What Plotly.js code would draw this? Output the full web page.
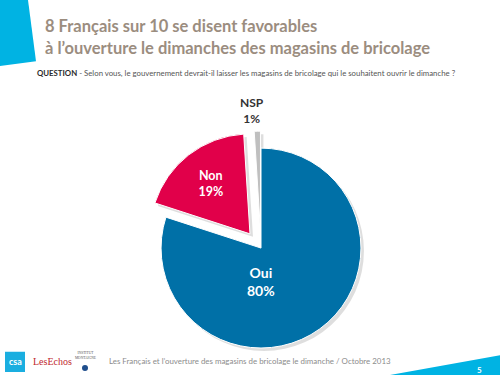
<!DOCTYPE html>
<html>
<head>
<meta charset="utf-8">
<script src="https://cdn.plot.ly/plotly-3.0.1.min.js"></script>
<style>
html,body{margin:0;padding:0;background:#fff;}
#chart{width:500px;height:375px;}
</style>
</head>
<body>
<div id="chart"></div>
<script>
// Data
const categories = ["Oui", "Non", "NSP"];
const values = [80, 19, 1];
const valueLabels = ["80%", "19%", "1%"];

const sliceColors = ["#0070a7", "#e1004a", "#bfbfbf"];
const pulls = [0, 0.18, 0.17];

const F = "Lato, 'Open Sans', sans-serif";
const pieDomain = {x: [0.286, 0.758], y: [0.024, 0.653]};

const shadow = {
  type: "pie",
  labels: categories,
  values: values,
  sort: false,
  direction: "clockwise",
  rotation: 0,
  pull: pulls,
  marker: {colors: ["rgba(0,0,0,0.13)", "rgba(0,0,0,0.13)", "rgba(0,0,0,0.13)"], line: {width: 0}},
  textinfo: "none",
  showlegend: false,
  automargin: false,
  domain: {x: [pieDomain.x[0] + 0.006, pieDomain.x[1] + 0.006], y: [pieDomain.y[0] - 0.008, pieDomain.y[1] - 0.008]},
  hoverinfo: "none"
};

const trace = {
  type: "pie",
  labels: categories,
  values: values,
  text: valueLabels,
  sort: false,
  direction: "clockwise",
  rotation: 0,
  pull: pulls,
  hole: 0,
  marker: {colors: sliceColors, line: {color: "#ffffff", width: 1}},
  texttemplate: "<b>%{label}</b><br><b>%{text}</b>",
  textposition: ["none", "inside", "none"],
  insidetextorientation: "horizontal",
  insidetextfont: {family: F, size: 12.5, color: "#ffffff"},
  showlegend: false,
  automargin: false,
  domain: pieDomain,
  hoverinfo: "none"
};

const layout = {
  width: 500, height: 375,
  margin: {l: 0, r: 0, t: 0, b: 0},
  paper_bgcolor: "#ffffff",
  showlegend: false,
  shapes: [
    {type: "path", xref: "paper", yref: "paper",
     path: "M 0 1 L 0.056 1 L 0.072 0.837 L 0 0.824 Z",
     fillcolor: "#00b3e3", line: {width: 0}},
    {type: "path", xref: "paper", yref: "paper",
     path: "M 0.78 0 L 1 0.053 L 1 0 Z",
     fillcolor: "#00b3e3", line: {width: 0}},
    {type: "rect", xref: "paper", yref: "paper",
     x0: 0.01, x1: 0.05, y0: 0.008, y1: 0.062,
     fillcolor: "#1aaee0", line: {width: 0}},
    {type: "circle", xref: "paper", yref: "paper",
     x0: 0.164, x1: 0.176, y0: 0.011, y1: 0.027,
     fillcolor: "#1f4e8c", line: {width: 0}}
  ],
  annotations: [
    {xref: "paper", yref: "paper", x: 0.086, y: 0.93, xanchor: "left", yanchor: "middle",
     text: "<b>8 Français sur 10 se disent favorables</b>", showarrow: false,
     font: {family: F, size: 16.5, color: "#9b8d7f"}},
    {xref: "paper", yref: "paper", x: 0.086, y: 0.872, xanchor: "left", yanchor: "middle",
     text: "<b>à l’ouverture le dimanches des magasins de bricolage</b>", showarrow: false,
     font: {family: F, size: 16.5, color: "#9b8d7f"}},
    {xref: "paper", yref: "paper", x: 0.07, y: 0.805, xanchor: "left", yanchor: "middle",
     text: "<b><span style='color:#2b2b2b'>QUESTION</span></b> - Selon vous, le gouvernement devrait-il laisser les magasins de bricolage qui le souhaitent ouvrir le dimanche ?",
     showarrow: false, font: {family: F, size: 7.8, color: "#555555"}},
    {xref: "paper", yref: "paper", x: 0.214, y: 0.037, xanchor: "left", yanchor: "middle",
     text: "Les Français et l’ouverture des magasins de bricolage le dimanche / Octobre 2013",
     showarrow: false, font: {family: F, size: 7.9, color: "#8c8c8c"}},
    {xref: "paper", yref: "paper", x: 0.958, y: 0.013, xanchor: "center", yanchor: "middle",
     text: "<b>5</b>", showarrow: false, font: {family: F, size: 8, color: "#ffffff"}},
    {xref: "paper", yref: "paper", x: 0.03, y: 0.035, xanchor: "center", yanchor: "middle",
     text: "<b>csa</b>", showarrow: false, font: {family: F, size: 9, color: "#ffffff"}},
    {xref: "paper", yref: "paper", x: 0.062, y: 0.035, xanchor: "left", yanchor: "middle",
     text: "LesEchos", showarrow: false, font: {family: "'Liberation Serif', serif", size: 10, color: "#c0272d"}},
    {xref: "paper", yref: "paper", x: 0.17, y: 0.052, xanchor: "center", yanchor: "middle",
     text: "INSTITUT<br>MONTAIGNE", showarrow: false, font: {family: "'Liberation Serif', serif", size: 3.5, color: "#555555"}},
    // slice labels (text from the data arrays)
    {xref: "paper", yref: "paper", x: 0.522, y: 0.25, xanchor: "center", yanchor: "middle",
     text: "<b>" + categories[0] + "</b><br><b>" + valueLabels[0] + "</b>", showarrow: false,
     font: {family: F, size: 14, color: "#ffffff"}},
    {xref: "paper", yref: "paper", x: 0.504, y: 0.706, xanchor: "center", yanchor: "middle",
     text: "<b>" + categories[2] + "</b><br><b>" + valueLabels[2] + "</b>", showarrow: false,
     font: {family: F, size: 12, color: "#333333"}}
  ]
};

Plotly.newPlot("chart", [shadow, trace], layout, {displayModeBar: false, staticPlot: true});
</script>
</body>
</html>
